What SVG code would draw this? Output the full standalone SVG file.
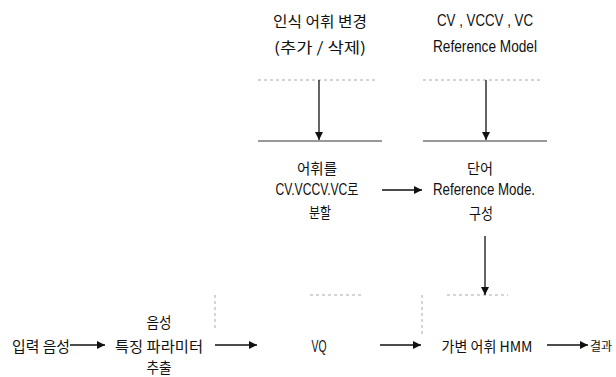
<svg xmlns="http://www.w3.org/2000/svg" width="616" height="377" viewBox="0 0 616 377">
<defs>
<marker id="ah" viewBox="0 0 10 10" refX="10" refY="5" markerWidth="9" markerHeight="8" markerUnits="userSpaceOnUse" orient="auto">
<path d="M0,0 L10,5 L0,10 Z" fill="#111"/>
</marker>
<style>
text{font-family:"Liberation Sans Narrow","Liberation Sans","Noto Sans CJK KR",sans-serif;font-size:16px;fill:#111;text-anchor:middle;dominant-baseline:central}
.k{font-family:"Noto Sans CJK KR","Noto Sans CJK SC",sans-serif;font-size:15px}
.edge{stroke:#111;stroke-width:1.3;fill:none;marker-end:url(#ah)}
.rule{stroke:#333;stroke-width:1.2;fill:none}
.dot{stroke:#aaa;stroke-width:1;stroke-dasharray:3 3;fill:none}
</style>
</defs>
<g id="frames">
<path class="dot" d="M258,80 H377"/>
<path class="dot" d="M423,80 H540"/>
<path class="rule" d="M258,141 H382"/>
<path class="rule" d="M423,141 H547"/>
<path class="dot" d="M215,295 V330"/>
<path class="dot" d="M310,295 H364"/>
<path class="dot" d="M422,295 V336"/>
<path class="dot" d="M447,295 H508"/>
</g>
<g id="n_vocab_change">
<text class="k" x="320" y="20" textLength="94" lengthAdjust="spacingAndGlyphs">인식 어휘 변경</text>
<text class="k" x="320" y="46" textLength="92" lengthAdjust="spacingAndGlyphs">(추가 / 삭제)</text>
</g>
<g id="n_ref_model">
<text x="485" y="20" textLength="96" lengthAdjust="spacingAndGlyphs">CV , VCCV , VC</text>
<text x="485" y="46" textLength="104" lengthAdjust="spacingAndGlyphs">Reference Model</text>
</g>
<g id="n_split">
<text class="k" x="317" y="167" textLength="40" lengthAdjust="spacingAndGlyphs">어휘를</text>
<text x="317" y="189" textLength="83" lengthAdjust="spacingAndGlyphs">CV.VCCV.VC로</text>
<text class="k" x="320" y="211" textLength="22" lengthAdjust="spacingAndGlyphs">분할</text>
</g>
<g id="n_word_ref">
<text class="k" x="480" y="167" textLength="26" lengthAdjust="spacingAndGlyphs">단어</text>
<text x="484" y="189" textLength="102" lengthAdjust="spacingAndGlyphs">Reference Mode.</text>
<text class="k" x="481" y="212" textLength="24" lengthAdjust="spacingAndGlyphs">구성</text>
</g>
<g id="n_input">
<text class="k" x="41" y="345" textLength="58" lengthAdjust="spacingAndGlyphs">입력 음성</text>
</g>
<g id="n_feature">
<text class="k" x="159" y="321" textLength="25" lengthAdjust="spacingAndGlyphs">음성</text>
<text class="k" x="159" y="345" textLength="88" lengthAdjust="spacingAndGlyphs">특징 파라미터</text>
<text class="k" x="159" y="366" textLength="25" lengthAdjust="spacingAndGlyphs">추출</text>
</g>
<g id="n_vq">
<text x="319" y="346" textLength="15" lengthAdjust="spacingAndGlyphs">VQ</text>
</g>
<g id="n_hmm">
<text class="k" x="487" y="345" textLength="91" lengthAdjust="spacingAndGlyphs">가변 어휘 HMM</text>
</g>
<g id="n_result">
<text class="k" x="601" y="345" style="font-size:12px">결과</text>
</g>
<g id="connectors">
<path class="edge" d="M319,80 V140"/>
<path class="edge" d="M486,80 V140"/>
<path class="edge" d="M382,190 H422"/>
<path class="edge" d="M485,236 V295"/>
<path class="edge" d="M70,345 H105"/>
<path class="edge" d="M215,345 H257"/>
<path class="edge" d="M380,345 H421"/>
<path class="edge" d="M547,345 H588"/>
</g>
</svg>
